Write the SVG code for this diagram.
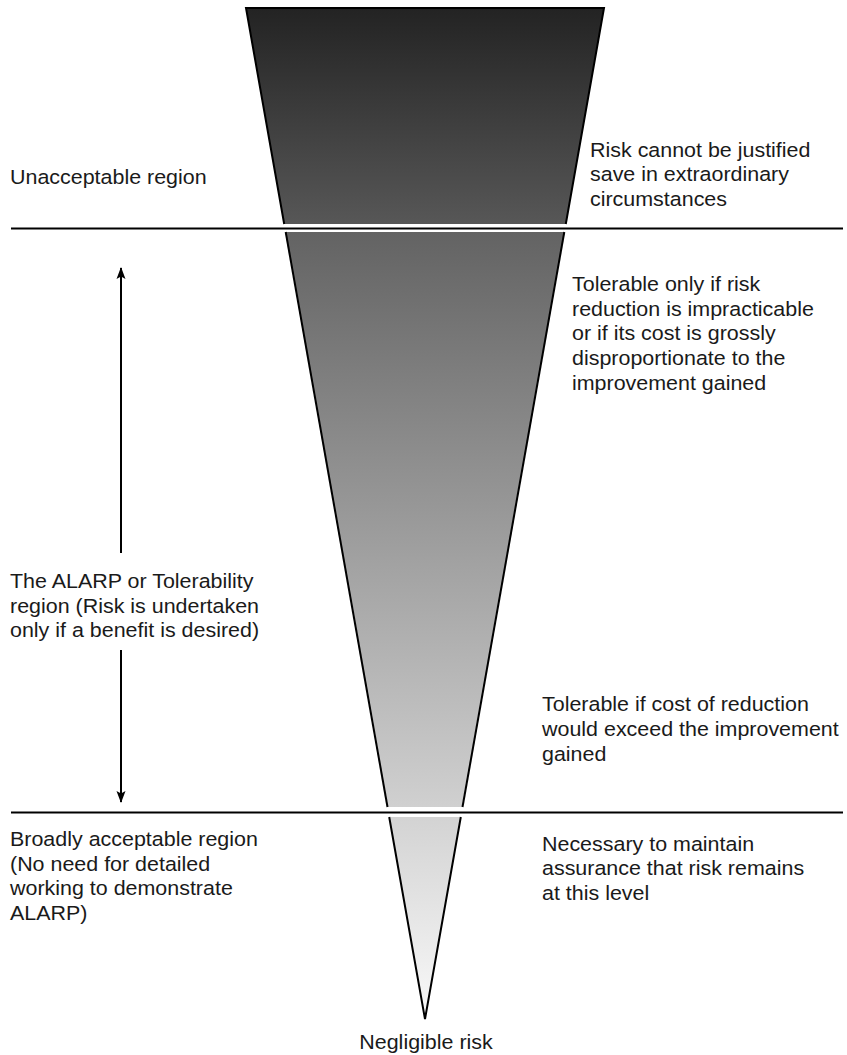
<svg xmlns="http://www.w3.org/2000/svg" width="847" height="1055" viewBox="0 0 847 1055">
  <style>
    .lbl { font-family: "Liberation Sans", Arial, Helvetica, sans-serif; font-size: 19.5px; fill: #1a1a1a; }
    .edge { stroke: #000; stroke-width: 2; fill: none; stroke-linejoin: miter; }
    .rule { stroke: #000; stroke-width: 2; }
    .arrow { stroke: #000; stroke-width: 2; }
  </style>
  <defs>
    <linearGradient id="gUnacc" gradientUnits="userSpaceOnUse" x1="0" y1="8" x2="0" y2="224">
      <stop offset="0" stop-color="#232323"/>
      <stop offset="1" stop-color="#575757"/>
    </linearGradient>
    <linearGradient id="gAlarp" gradientUnits="userSpaceOnUse" x1="0" y1="232" x2="0" y2="807">
      <stop offset="0" stop-color="#636363"/>
      <stop offset="1" stop-color="#d0d0d0"/>
    </linearGradient>
    <linearGradient id="gBroad" gradientUnits="userSpaceOnUse" x1="0" y1="817" x2="0" y2="1019">
      <stop offset="0" stop-color="#d3d3d3"/>
      <stop offset="1" stop-color="#f9f9f9"/>
    </linearGradient>
    <marker id="head" viewBox="0 0 12 10" refX="11" refY="5" markerWidth="12" markerHeight="10" markerUnits="userSpaceOnUse" orient="auto">
      <path d="M0,0.5 L12,5 L0,9.5 L2.5,5 Z" fill="#000"/>
    </marker>
  </defs>

  <!-- risk triangle, split into three bands -->
  <g id="band-unacceptable">
    <polygon points="246,8 604,8 565.8,224 284.2,224" fill="url(#gUnacc)"/>
    <polyline class="edge" points="284.2,224 246,8 604,8 565.8,224"/>
  </g>
  <g id="band-alarp">
    <polygon points="285.7,232 564.3,232 462.5,807 387.5,807" fill="url(#gAlarp)"/>
    <line class="edge" x1="285.7" y1="232" x2="387.5" y2="807"/>
    <line class="edge" x1="564.3" y1="232" x2="462.5" y2="807"/>
  </g>
  <g id="band-broadly">
    <polygon points="389.2,817 460.8,817 425,1019" fill="url(#gBroad)"/>
    <polyline class="edge" points="389.2,817 425,1019 460.8,817"/>
  </g>

  <!-- region boundaries and the ALARP extent arrow -->
  <g id="connectors">
    <line class="rule" x1="11" y1="228.5" x2="843" y2="228.5"/>
    <line class="rule" x1="11" y1="812.5" x2="843" y2="812.5"/>
    <line class="arrow" x1="121" y1="553" x2="121" y2="268" marker-end="url(#head)"/>
    <line class="arrow" x1="121" y1="650" x2="121" y2="802" marker-end="url(#head)"/>
  </g>

  <!-- left-hand region names (type set slightly wide) -->
  <g id="label-unacceptable" transform="translate(10,0) scale(1.1,1)">
    <text class="lbl" x="0" y="184">Unacceptable region</text>
  </g>
  <g id="label-alarp" transform="translate(10,0) scale(1.1,1)">
    <text class="lbl" x="0" y="588">The ALARP or Tolerability</text>
    <text class="lbl" x="0" y="613">region (Risk is undertaken</text>
    <text class="lbl" x="0" y="637">only if a benefit is desired)</text>
  </g>
  <g id="label-broadly" transform="translate(10,0) scale(1.1,1)">
    <text class="lbl" x="0" y="846">Broadly acceptable region</text>
    <text class="lbl" x="0" y="871">(No need for detailed</text>
    <text class="lbl" x="0" y="895">working to demonstrate</text>
    <text class="lbl" x="0" y="920">ALARP)</text>
  </g>

  <!-- right-hand notes -->
  <g id="note-unacceptable" transform="translate(590,0) scale(1.1,1)">
    <text class="lbl" x="0" y="157">Risk cannot be justified</text>
    <text class="lbl" x="0" y="181">save in extraordinary</text>
    <text class="lbl" x="0" y="206">circumstances</text>
  </g>
  <g id="note-alarp-upper" transform="translate(572,0) scale(1.1,1)">
    <text class="lbl" x="0" y="291">Tolerable only if risk</text>
    <text class="lbl" x="0" y="316">reduction is impracticable</text>
    <text class="lbl" x="0" y="340">or if its cost is grossly</text>
    <text class="lbl" x="0" y="365">disproportionate to the</text>
    <text class="lbl" x="0" y="390">improvement gained</text>
  </g>
  <g id="note-alarp-lower" transform="translate(542,0) scale(1.1,1)">
    <text class="lbl" x="0" y="711">Tolerable if cost of reduction</text>
    <text class="lbl" x="0" y="736">would exceed the improvement</text>
    <text class="lbl" x="0" y="761">gained</text>
  </g>
  <g id="note-broadly" transform="translate(542,0) scale(1.1,1)">
    <text class="lbl" x="0" y="851">Necessary to maintain</text>
    <text class="lbl" x="0" y="875">assurance that risk remains</text>
    <text class="lbl" x="0" y="900">at this level</text>
  </g>
  <g id="label-negligible" transform="translate(426,0) scale(1.1,1)">
    <text class="lbl" x="0" y="1049" text-anchor="middle">Negligible risk</text>
  </g>
</svg>
